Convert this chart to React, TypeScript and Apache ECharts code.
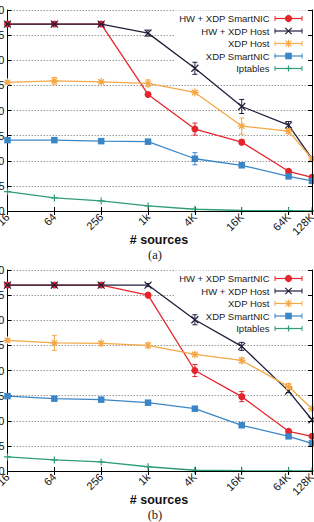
import React, { useEffect, useRef } from 'react';
import * as echarts from 'echarts';

// number of sources (x positions, log2 spaced) and their tick labels
const sizes = [16, 64, 256, 1024, 4096, 16384, 65536, 131072];
const sizeLabels = ['16', '64', '256', '1k', '4K', '16K', '64K', '128K'];

const seriesNames = ['HW + XDP SmartNIC', 'HW + XDP Host', 'XDP Host', 'XDP SmartNIC', 'Iptables'];

// panel (a)
const hwNicA = [37.2, 37.2, 37.2, 23.2, 16.3, 13.7, 7.9, 6.7];
const hwHostA = [37.2, 37.2, 37.2, 35.4, 28.4, 20.8, 17.1, 10.4];
const xdpHostA = [25.6, 25.9, 25.7, 25.4, 23.6, 16.9, 15.9, 10.4];
const xdpNicA = [14.1, 14.1, 13.9, 13.8, 10.4, 9.1, 6.9, 6.0];
const iptablesA = [3.85, 2.6, 2.0, 1.0, 0.35, 0.1, 0.05, 0.03];

const hwNicErrA = [0, 0, 0, 0.3, 1.2, 0.5, 0.3, 0];
const hwHostErrA = [0, 0, 0, 0.6, 1.2, 1.4, 0.7, 0];
const xdpHostErrA = [0.3, 0.65, 0.3, 0.7, 0.3, 1.6, 0.5, 0];
const xdpNicErrA = [0.2, 0, 0, 0.2, 1.2, 0.2, 0.2, 0];
const iptablesErrA = [0, 0, 0, 0, 0, 0, 0, 0];

// panel (b)
const hwNicB = [37.0, 37.0, 37.0, 35.0, 20.0, 14.8, 7.9, 6.9];
const hwHostB = [37.0, 37.0, 37.0, 37.0, 30.1, 24.8, 15.9, 10.2];
const xdpHostB = [26.0, 25.5, 25.4, 25.0, 23.2, 22.0, 16.8, 12.4];
const xdpNicB = [14.9, 14.4, 14.2, 13.6, 12.4, 9.1, 6.9, 5.5];
const iptablesB = [2.8, 2.2, 1.8, 0.85, 0.15, 0.05, 0.03, 0.02];

const hwNicErrB = [0, 0, 0, 0.3, 1.2, 1.0, 0.3, 0];
const hwHostErrB = [0, 0, 0, 0.3, 1.0, 0.8, 0.3, 0];
const xdpHostErrB = [0.3, 1.5, 0.4, 0.5, 0.3, 0.5, 0.6, 0];
const xdpNicErrB = [0, 0, 0, 0.2, 0.2, 0.2, 0, 0];
const iptablesErrB = [0, 0, 0, 0, 0, 0, 0, 0];

const COLORS = ['#e4262c', '#1f1f3d', '#f4a846', '#3a86c7', '#2f9e73'];
const SANS = 'Liberation Sans, Arial, Helvetica, sans-serif';
const SERIF = 'Liberation Serif, Times New Roman, serif';

const SYM_X = 'path://M0,0L8,8M8,0L0,8';
const SYM_STAR = 'path://M4,0L4,8M0,4L8,4M1.2,1.2L6.8,6.8M6.8,1.2L1.2,6.8';
const SYM_PLUS = 'path://M4,0L4,8M0,4L8,4';
const SYMBOLS = ['circle', SYM_X, SYM_STAR, 'rect', SYM_PLUS];
const SYMBOL_SIZES = [7, 7, 8, 6.5, 7];

const labelFor = (v: number) => {
  const k = Math.round(Math.log2(v));
  const i = sizes.findIndex((s) => Math.round(Math.log2(s)) === k);
  return i >= 0 ? sizeLabels[i] : '';
};

const PLOT_LEFT = 7.5;
const PLOT_RIGHT = 312;
const PLOT_H = 201;
const PANEL_TOPS = [10, 270];

function legendGraphics(top: number) {
  const els: any[] = [];
  // opaque key box hides the grid lines behind it
  els.push({
    type: 'rect',
    z: 1,
    shape: { x: 175, y: top + 0.5, width: PLOT_RIGHT - 175 - 0.5, height: 66 },
    style: { fill: '#fff' },
  });
  seriesNames.forEach((name, i) => {
    const cy = top + 8.5 + i * 12.5;
    const c = COLORS[i];
    const x1 = 275;
    const x2 = 302;
    const mx = 288.5;
    els.push({
      type: 'text',
      z: 6,
      style: {
        text: name,
        x: 269.5,
        y: cy,
        align: 'right',
        verticalAlign: 'middle',
        fontSize: 9.5,
        fontFamily: SANS,
        fill: '#222',
      },
    });
    const ln = (a: number, b: number, cc: number, d: number, w = 1.2) => ({
      type: 'line',
      z: 6,
      shape: { x1: a, y1: b, x2: cc, y2: d },
      style: { stroke: c, lineWidth: w },
    });
    els.push(ln(x1, cy, x2, cy));
    els.push(ln(x1, cy - 2.5, x1, cy + 2.5, 1));
    els.push(ln(x2, cy - 2.5, x2, cy + 2.5, 1));
    if (i === 0) {
      els.push({ type: 'circle', z: 7, shape: { cx: mx, cy, r: 3.6 }, style: { fill: c } });
    } else if (i === 1) {
      els.push(ln(mx - 3.2, cy - 3.2, mx + 3.2, cy + 3.2));
      els.push(ln(mx + 3.2, cy - 3.2, mx - 3.2, cy + 3.2));
    } else if (i === 2) {
      els.push(ln(mx - 3.8, cy, mx + 3.8, cy));
      els.push(ln(mx, cy - 3.8, mx, cy + 3.8));
      els.push(ln(mx - 2.8, cy - 2.8, mx + 2.8, cy + 2.8));
      els.push(ln(mx + 2.8, cy - 2.8, mx - 2.8, cy + 2.8));
    } else if (i === 3) {
      els.push({ type: 'rect', z: 7, shape: { x: mx - 3.3, y: cy - 3.3, width: 6.6, height: 6.6 }, style: { fill: c } });
    } else {
      els.push(ln(mx - 3, cy, mx + 3, cy));
      els.push(ln(mx, cy - 3, mx, cy + 3));
    }
  });
  return els;
}

export default function App() {
  const ref = useRef<HTMLDivElement>(null);

  useEffect(() => {
    if (!ref.current) return;
    const chart = echarts.init(ref.current, undefined, { renderer: 'svg' });

    const panels = [
      {
        values: [hwNicA, hwHostA, xdpHostA, xdpNicA, iptablesA],
        errors: [hwNicErrA, hwHostErrA, xdpHostErrA, xdpNicErrA, iptablesErrA],
      },
      {
        values: [hwNicB, hwHostB, xdpHostB, xdpNicB, iptablesB],
        errors: [hwNicErrB, hwHostErrB, xdpHostErrB, xdpNicErrB, iptablesErrB],
      },
    ];

    const grid: any[] = [];
    const xAxis: any[] = [];
    const yAxis: any[] = [];
    const series: any[] = [];
    const graphic: any[] = [];

    PANEL_TOPS.forEach((top, g) => {
      grid.push({
        left: PLOT_LEFT,
        top,
        width: PLOT_RIGHT - PLOT_LEFT,
        height: PLOT_H,
        containLabel: false,
        outerBoundsMode: 'none',
      });

      const xBase = {
        type: 'log',
        logBase: 2,
        min: 16,
        max: 131072,
        gridIndex: g,
        splitLine: { show: false },
        minorTick: { show: false },
        axisLine: { show: true, lineStyle: { color: '#000', width: 1 } },
        axisTick: { show: true, inside: true, length: 4, customValues: sizes, lineStyle: { color: '#000' } },
      };
      xAxis.push({
        ...xBase,
        position: 'bottom',
        axisLabel: {
          customValues: sizes,
          rotate: 45,
          margin: 4,
          fontSize: 11,
          color: '#111',
          fontFamily: SANS,
          formatter: (v: number) => labelFor(v),
        },
      });
      xAxis.push({ ...xBase, position: 'top', z: 3, axisLabel: { show: false } });

      const yBase = {
        type: 'value',
        min: 0,
        max: 40,
        interval: 5,
        gridIndex: g,
        axisLine: { show: true, lineStyle: { color: '#000', width: 1 } },
        axisTick: { show: true, inside: true, length: 4, lineStyle: { color: '#000' } },
      };
      yAxis.push({
        ...yBase,
        position: 'left',
        axisLabel: { fontSize: 11, margin: 3, color: '#111', fontFamily: SANS },
        splitLine: { show: true, lineStyle: { color: '#9a9a9a', type: [1.5, 1.5], width: 1 } },
      });
      yAxis.push({ ...yBase, position: 'right', z: 3, axisLabel: { show: false }, splitLine: { show: false } });

      const p = panels[g];
      seriesNames.forEach((name, i) => {
        const c = COLORS[i];
        series.push({
          name,
          type: 'line',
          xAxisIndex: 2 * g,
          yAxisIndex: 2 * g,
          data: sizes.map((s, k) => [s, p.values[i][k]]),
          symbol: SYMBOLS[i],
          symbolSize: SYMBOL_SIZES[i],
          showAllSymbol: true,
          lineStyle: { color: c, width: 1.3 },
          itemStyle: { color: c, borderColor: c, borderWidth: i === 0 || i === 3 ? 0 : 1.2 },
          z: 2 + i * 0.01,
        });
        series.push({
          type: 'custom',
          xAxisIndex: 2 * g,
          yAxisIndex: 2 * g,
          clip: false,
          z: 3,
          data: sizes
            .map((s, k) => [s, p.values[i][k], p.errors[i][k]])
            .filter((d) => d[2] > 0),
          encode: { x: 0, y: 1 },
          renderItem: (_params: any, api: any) => {
            const x = api.value(0);
            const y = api.value(1);
            const e = api.value(2);
            const a = api.coord([x, y + e]);
            const b = api.coord([x, y - e]);
            const w = 2.5;
            const st = { stroke: c, lineWidth: 1 };
            return {
              type: 'group',
              children: [
                { type: 'line', shape: { x1: a[0], y1: a[1], x2: b[0], y2: b[1] }, style: st },
                { type: 'line', shape: { x1: a[0] - w, y1: a[1], x2: a[0] + w, y2: a[1] }, style: st },
                { type: 'line', shape: { x1: b[0] - w, y1: b[1], x2: b[0] + w, y2: b[1] }, style: st },
              ],
            };
          },
        });
      });

      graphic.push(...legendGraphics(top));
      graphic.push({
        type: 'text',
        z: 6,
        style: {
          text: '# sources',
          x: 159,
          y: top + 230,
          align: 'center',
          verticalAlign: 'middle',
          fontSize: 12.5,
          fontWeight: 'bold',
          fontFamily: SANS,
          fill: '#111',
        },
      });
      graphic.push({
        type: 'text',
        z: 6,
        style: {
          text: g === 0 ? '(a)' : '(b)',
          x: 155,
          y: top + 245,
          align: 'center',
          verticalAlign: 'middle',
          fontSize: 12.5,
          fontFamily: SERIF,
          fill: '#222',
        },
      });
    });

    chart.setOption({
      animation: false,
      backgroundColor: '#fff',
      grid,
      xAxis,
      yAxis,
      series,
      graphic,
    });

    return () => chart.dispose();
  }, []);

  return <div ref={ref} style={{ position: 'fixed', left: 0, top: 0, width: 314, height: 522 }} />;
}
